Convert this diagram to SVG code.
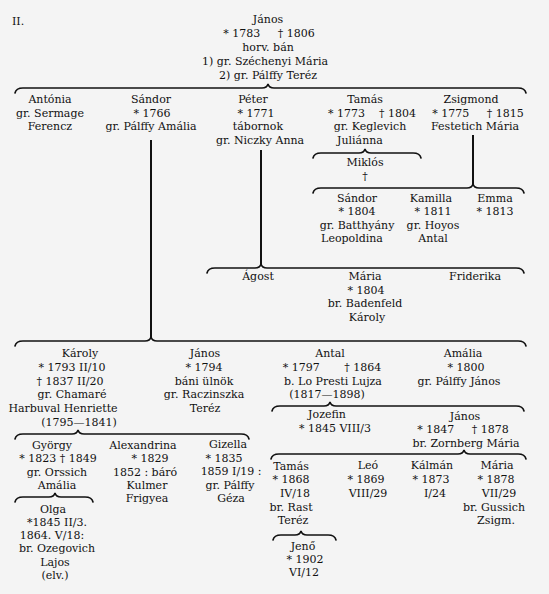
<svg xmlns="http://www.w3.org/2000/svg" width="549" height="594" viewBox="0 0 549 594">
<style>
text{font-family:"DejaVu Serif","Liberation Serif",serif;font-size:11px;fill:#111;text-anchor:middle}
.l{text-anchor:start}
.br{fill:none;stroke:#111;stroke-width:1.6;stroke-linecap:round}
.v{fill:none;stroke:#111;stroke-width:2}
</style>
<rect width="549" height="594" fill="#f4f4f4"/>
<text class="l" x="12" y="25">II.</text>
<g id="connectors">
<path class="br" d="M15 93 Q16 88 23 88 L262 88 Q267 88 268 84 Q269 88 274 88 L518 88 Q525 88 526 93"/>
<path class="br" d="M313 158 Q314 153 321 153 L359 153 Q364 153 365 149 Q366 153 371 153 L413 153 Q420 153 421 158"/>
<path class="br" d="M313 193 Q314 188 321 188 L467 188 Q472 188 473 184 Q474 188 479 188 L516 188 Q523 188 524 193"/>
<path class="br" d="M207 273 Q208 268 215 268 L255 268 Q260 268 261 264 Q262 268 267 268 L516 268 Q523 268 524 273"/>
<path class="br" d="M15 346 Q16 341 23 341 L145 341 Q150 341 151 337 Q152 341 157 341 L518 341 Q525 341 526 346"/>
<path class="br" d="M15 439 Q16 434 23 434 L72 434 Q77 434 78 430 Q79 434 84 434 L241 434 Q248 434 249 439"/>
<path class="br" d="M15 502 Q16 497 23 497 L49 497 Q54 497 55 493 Q56 497 61 497 L85 497 Q92 497 93 502"/>
<path class="br" d="M272 411 Q273 406 280 406 L324 406 Q329 406 330 402 Q331 406 336 406 L516 406 Q523 406 524 411"/>
<path class="br" d="M271 459 Q272 454 279 454 L458 454 Q463 454 464 450 Q465 454 470 454 L518 454 Q525 454 526 459"/>
<path class="br" d="M273 540 Q274 535 281 535 L295 535 Q300 535 301 531 Q302 535 307 535 L328 535 Q335 535 336 540"/>
<line class="v" x1="151" y1="140" x2="151" y2="338"/>
<line class="v" x1="261" y1="150" x2="261" y2="265"/>
<line class="v" x1="473" y1="135" x2="473" y2="185"/>
</g>
<g id="janos-1783">
<text x="268" y="23">János</text>
<text x="269" y="37">* 1783&#160;&#160;&#160;&#160; † 1806</text>
<text x="268" y="51">horv. bán</text>
<text x="265" y="65">1) gr. Széchenyi Mária</text>
<text x="268" y="79">2) gr. Pálffy Teréz</text>
</g>
<g id="antonia">
<text x="50" y="103">Antónia</text>
<text x="50" y="117">gr. Sermage</text>
<text x="50" y="130">Ferencz</text>
</g>
<g id="sandor-1766">
<text x="151" y="103">Sándor</text>
<text x="152" y="117">* 1766</text>
<text x="151" y="130">gr. Pálffy Amália</text>
</g>
<g id="peter">
<text x="253" y="103">Péter</text>
<text x="256" y="117">* 1771</text>
<text x="258" y="130">tábornok</text>
<text x="260" y="144">gr. Niczky Anna</text>
</g>
<g id="tamas-1773">
<text x="365" y="103">Tamás</text>
<text x="372" y="117">* 1773&#160;&#160;&#160; † 1804</text>
<text x="370" y="130">gr. Keglevich</text>
<text x="360" y="144">Juliánna</text>
</g>
<g id="zsigmond">
<text x="471" y="103">Zsigmond</text>
<text x="478" y="117">* 1775&#160;&#160;&#160;&#160; † 1815</text>
<text x="475" y="130">Festetich Mária</text>
</g>
<g id="miklos">
<text x="365" y="166">Miklós</text>
<text x="365" y="180">†</text>
</g>
<g id="sandor-1804">
<text x="357" y="202">Sándor</text>
<text x="357" y="215">* 1804</text>
<text x="357" y="229">gr. Batthyány</text>
<text x="352" y="242">Leopoldina</text>
</g>
<g id="kamilla">
<text x="431" y="202">Kamilla</text>
<text x="433" y="215">* 1811</text>
<text x="433" y="229">gr. Hoyos</text>
<text x="433" y="242">Antal</text>
</g>
<g id="emma">
<text x="495" y="202">Emma</text>
<text x="495" y="215">* 1813</text>
</g>
<g id="agost">
<text x="258" y="280">Ágost</text>
</g>
<g id="maria-1804">
<text x="365" y="280">Mária</text>
<text x="366" y="294">* 1804</text>
<text x="365" y="307">br. Badenfeld</text>
<text x="367" y="321">Károly</text>
</g>
<g id="friderika">
<text x="475" y="280">Friderika</text>
</g>
<g id="karoly">
<text x="80" y="357">Károly</text>
<text x="72" y="371">* 1793 II/10</text>
<text x="70" y="385">† 1837 II/20</text>
<text x="72" y="398">gr. Chamaré</text>
<text x="63" y="412">Harbuval Henriette</text>
<text x="79" y="426">(1795—1841)</text>
</g>
<g id="janos-1794">
<text x="205" y="357">János</text>
<text x="204" y="371">* 1794</text>
<text x="204" y="385">báni ülnök</text>
<text x="204" y="398">gr. Raczinszka</text>
<text x="205" y="412">Teréz</text>
</g>
<g id="antal">
<text x="330" y="357">Antal</text>
<text x="332" y="371">* 1797&#160;&#160;&#160;&#160;&#160;&#160; † 1864</text>
<text x="333" y="385">b. Lo Presti Lujza</text>
<text x="327" y="398">(1817—1898)</text>
</g>
<g id="amalia-1800">
<text x="463" y="357">Amália</text>
<text x="466" y="371">* 1800</text>
<text x="459" y="385">gr. Pálffy János</text>
</g>
<g id="jozefin">
<text x="327" y="418">Jozefin</text>
<text x="335" y="432">* 1845 VIII/3</text>
</g>
<g id="janos-1847">
<text x="465" y="420">János</text>
<text x="463" y="433">* 1847&#160;&#160;&#160;&#160; † 1878</text>
<text x="466" y="447">br. Zornberg Mária</text>
</g>
<g id="gyorgy">
<text x="52" y="449">György</text>
<text x="58" y="462">* 1823 † 1849</text>
<text x="57" y="476">gr. Orssich</text>
<text x="57" y="489">Amália</text>
</g>
<g id="alexandrina">
<text x="143" y="449">Alexandrina</text>
<text x="150" y="462">* 1829</text>
<text x="145" y="476">1852 : báró</text>
<text x="147" y="489">Kulmer</text>
<text x="147" y="502">Frigyea</text>
</g>
<g id="gizella">
<text x="228" y="448">Gizella</text>
<text x="224" y="462">* 1835</text>
<text x="231" y="475">1859 I/19 :</text>
<text x="230" y="489">gr. Pálffy</text>
<text x="231" y="502">Géza</text>
</g>
<g id="olga">
<text x="53" y="513">Olga</text>
<text x="57" y="526">*1845 II/3.</text>
<text x="52" y="539">1864. V/18:</text>
<text x="57" y="552">br. Ozegovich</text>
<text x="55" y="566">Lajos</text>
<text x="55" y="579">(elv.)</text>
</g>
<g id="tamas-1868">
<text x="291" y="470">Tamás</text>
<text x="291" y="483">* 1868</text>
<text x="295" y="497">IV/18</text>
<text x="291" y="511">br. Rast</text>
<text x="293" y="524">Teréz</text>
</g>
<g id="leo">
<text x="368" y="469">Leó</text>
<text x="366" y="483">* 1869</text>
<text x="368" y="497">VIII/29</text>
</g>
<g id="kalman">
<text x="432" y="469">Kálmán</text>
<text x="431" y="483">* 1873</text>
<text x="435" y="497">I/24</text>
</g>
<g id="maria-1878">
<text x="497" y="469">Mária</text>
<text x="496" y="483">* 1878</text>
<text x="499" y="497">VII/29</text>
<text x="494" y="511">br. Gussich</text>
<text x="496" y="524">Zsigm.</text>
</g>
<g id="jeno">
<text x="303" y="550">Jenő</text>
<text x="305" y="563">* 1902</text>
<text x="304" y="576">VI/12</text>
</g>
</svg>
